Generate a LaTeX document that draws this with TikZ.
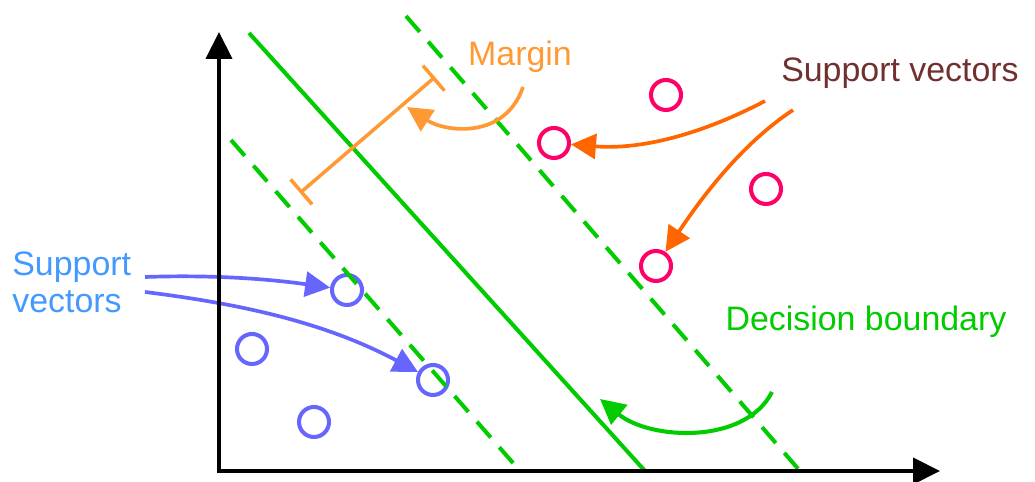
\documentclass[tikz,border=0pt]{standalone}
\usepackage{fontspec}
\setmainfont{Liberation Sans}
\usepackage{xcolor}
\usepackage{tikz}
\usetikzlibrary{arrows.meta}
\definecolor{boundgreen}{RGB}{0,204,0}
\definecolor{margorange}{RGB}{255,153,51}
\definecolor{svorange}{RGB}{255,102,0}
\definecolor{ptpink}{RGB}{255,0,102}
\definecolor{svmaroon}{RGB}{112,48,48}
\definecolor{svblue}{RGB}{68,153,255}
\definecolor{ptblue}{RGB}{102,102,255}
\tikzstyle{axisline} = [draw, line width=2.4pt, line join=miter, {Triangle[length=0.54cm,width=0.52cm]}-{Triangle[length=0.54cm,width=0.52cm]}]
\tikzstyle{boundary} = [draw=boundgreen, line width=2.3pt]
\tikzstyle{gutter} = [boundary, dash pattern=on 0.42cm off 0.26cm]
\tikzstyle{datapt} = [circle, draw, line width=2.3pt, minimum size=0.6cm, inner sep=0pt]
\tikzstyle{pointer} = [draw, line width=2.1pt, -{Triangle[length=0.5cm,width=0.5cm]}]
\tikzstyle{textlabel} = [font=\fontsize{19.3pt}{21.6pt}\selectfont, inner sep=0pt]

\begin{document}
\begin{tikzpicture}[x=0.02cm, y=-0.02cm]
\useasboundingbox (0,0) rectangle (1035,482);
\coordinate (y-end) at (219,32);
\coordinate (origin) at (219,471);
\coordinate (x-end) at (940,471);
\coordinate (db-top) at (249,33);
\coordinate (db-bot) at (645,471);
\coordinate (lo-top) at (231,140);
\coordinate (lo-bot) at (520,471);
\coordinate (hi-top) at (406,16);
\coordinate (hi-bot) at (800,471);
\node [datapt, draw=ptpink] (p1) at (666,95) {};
\node [datapt, draw=ptpink] (p2) at (554,143) {};
\node [datapt, draw=ptpink] (p3) at (766,189) {};
\node [datapt, draw=ptpink] (p4) at (656,266) {};
\node [datapt, draw=ptblue] (b1) at (347,290) {};
\node [datapt, draw=ptblue] (b2) at (433,380) {};
\node [datapt, draw=ptblue] (b3) at (252,349) {};
\node [datapt, draw=ptblue] (b4) at (314,422) {};
\path [boundary] (db-top) -- (db-bot);
\path [gutter] (lo-top) -- (lo-bot);
\path [gutter] (hi-top) -- (hi-bot);
\coordinate (m-lo) at (300,193);
\coordinate (m-hi) at (435,77);
\draw [margorange, line width=2pt, {Bar[width=0.66cm]}-{Bar[width=0.66cm]}] (m-lo) -- (m-hi);
\node [textlabel, text=margorange, anchor=base] (margin) at (520,66) {Margin};
\coordinate (margin-from) at (523,87);
\coordinate (margin-to) at (407,107);
\path [pointer, margorange] (margin-from) .. controls (505,140) and (445,132) .. (margin-to);
\node [textlabel, text=svmaroon, anchor=base] (sv-pos) at (900,82) {Support vectors};
\coordinate (sv-pos-a) at (765,101);
\coordinate (sv-pos-b) at (793,110);
\path [pointer, svorange] (sv-pos-a) .. controls (700,135) and (640,150) .. (p2);
\path [pointer, svorange] (sv-pos-b) .. controls (740,145) and (700,200) .. (p4);
\node [textlabel, text=svblue, anchor=base west, align=left] (sv-neg) at (12,313) {Support\\vectors};
\coordinate (sv-neg-a) at (145,277);
\coordinate (sv-neg-b) at (145,292);
\path [pointer, ptblue] (sv-neg-a) .. controls (230,274) and (290,282) .. (b1);
\path [pointer, ptblue] (sv-neg-b) .. controls (250,305) and (330,325) .. (b2);
\node [textlabel, text=boundgreen, anchor=base] (decision) at (866,331) {Decision boundary};
\coordinate (decision-from) at (772,392);
\coordinate (decision-to) at (600,399);
\path [pointer, boundgreen, line width=2.3pt] (decision-from) .. controls (745,445) and (650,440) .. (decision-to);
\path [axisline] (y-end) -- (origin) -- (x-end);
\end{tikzpicture}
\end{document}
